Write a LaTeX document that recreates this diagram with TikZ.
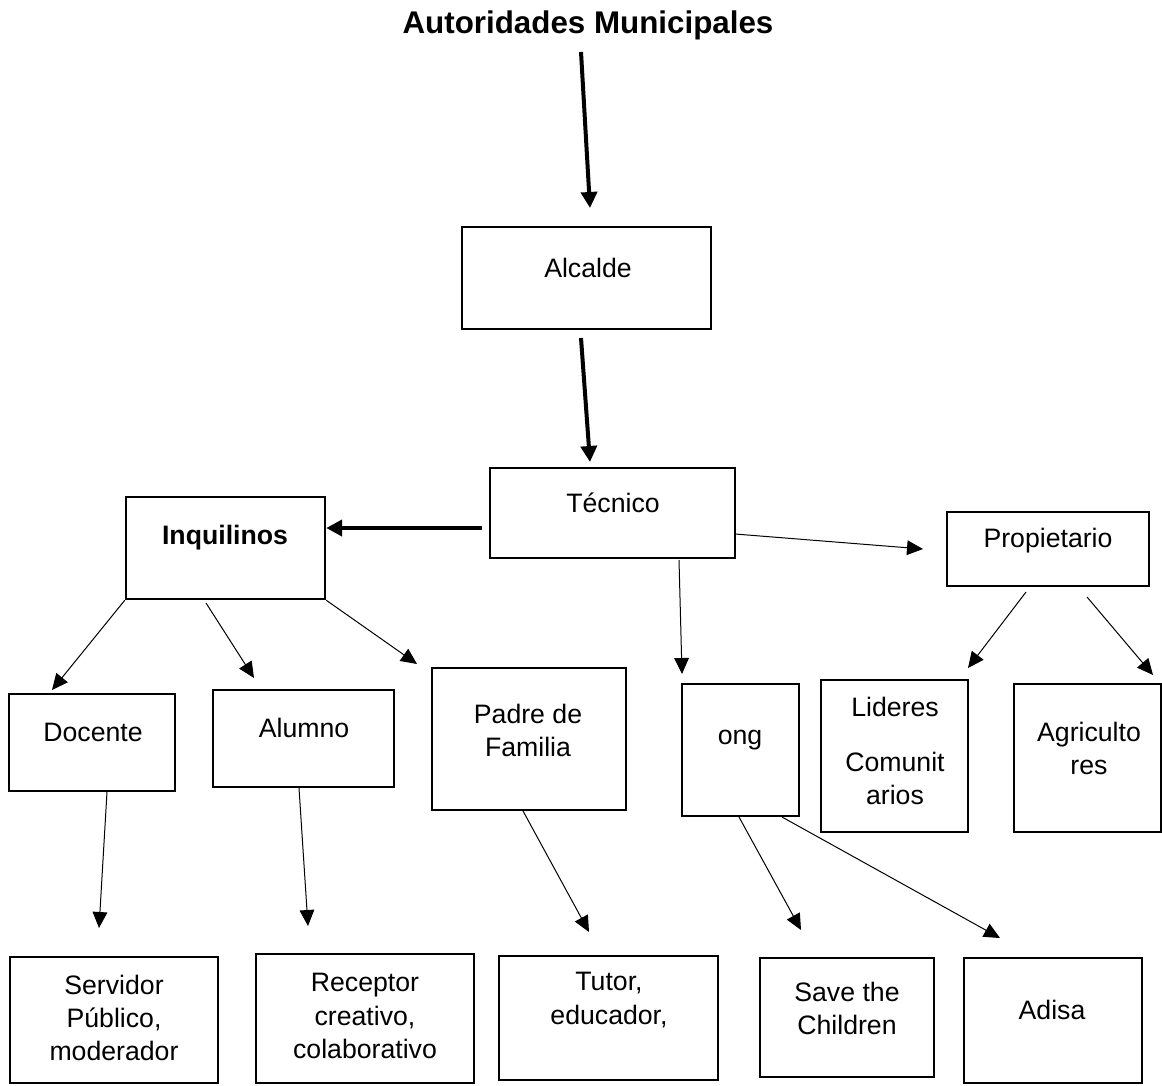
\documentclass[tikz,border=0pt]{standalone}
\usepackage{fontspec}
\setmainfont{Liberation Sans}
\usetikzlibrary{arrows.meta,fit}

\tikzset{
  box/.style={draw, line width=1.8pt, inner sep=0pt},
  txt/.style={inner sep=0.75pt, align=center, font=\fontsize{20}{24.8}\selectfont},
  arr/.style={line width=0.75pt, -{Triangle[length=12pt,width=11pt]}},
  bigarr/.style={line width=3pt, -{Triangle[length=12pt,width=12pt]}},
}

\begin{document}
\begin{tikzpicture}[x=0.75pt,y=0.75pt,yscale=-1,xscale=1]
\useasboundingbox (0,0) rectangle (1162,1085);

% Text Node
\node[txt, font=\bfseries\fontsize{23.5}{28}\selectfont] (tit) at (588,25) {Autoridades Municipales};

%Shape: Rectangle
\node[box, fit={(462,227) (711,329)}] (alc) {};
\node[box, fit={(490,468) (735,558)}] (tec) {};
\node[box, fit={(126,497) (325,599)}] (inq) {};
\node[box, fit={(947,512) (1149,586)}] (pro) {};
%Shape: Rectangle
\node[box, fit={(9,694) (175,791)}] (doc) {};
\node[box, fit={(213,690) (394,787)}] (alu) {};
\node[box, fit={(432,668) (626,810)}] (pad) {};
\node[box, fit={(682,684) (799,816)}] (ong) {};
\node[box, fit={(821,680) (968,832)}] (lid) {};
\node[box, fit={(1014,684) (1161,832)}] (agr) {};
%Shape: Rectangle
\node[box, fit={(10,957) (218,1083)}] (ser) {};
\node[box, fit={(256,954) (474,1083)}] (rec) {};
\node[box, fit={(499,956) (718,1080)}] (tut) {};
\node[box, fit={(760,958) (934,1077)}] (sav) {};
\node[box, fit={(964,958) (1142,1083)}] (adi) {};

% Text Node
\node[txt] (alcT) at (588,268) {Alcalde};
\node[txt] (tecT) at (613,503) {Técnico};
\node[txt, font=\bfseries\fontsize{20}{24.8}\selectfont] (inqT) at (225,538) {Inquilinos};
\node[txt] (proT) at (1048,541) {Propietario};
% Text Node
\node[txt] (docT) at (93,732) {Docente};
\node[txt] (aluT) at (304,728) {Alumno};
\node[txt] (padT) at (528,730) {Padre de\\Familia};
\node[txt] (ongT) at (740,740) {ong};
\node[txt] (lidT) at (895,751) {Lideres\\[16.5pt]Comunit\\arios};
\node[txt] (agrT) at (1089,748) {Agriculto\\res};
% Text Node
\node[txt] (serT) at (114,1018) {Servidor\\Público,\\moderador};
\node[txt] (recT) at (365,1016) {Receptor\\creativo,\\colaborativo};
\node[txt] (tutT) at (609,1000) {Tutor,\\educador,};
\node[txt] (savT) at (847,1008) {Save the\\Children};
\node[txt] (adiT) at (1052,1010) {Adisa};

%Arrow ends
\coordinate (titS) at (581,52);
\coordinate (alcN) at (590,208);
\coordinate (alcS) at (581,338);
\coordinate (tecN) at (590,462);
\coordinate (tecW) at (482,528);
\coordinate (tecE) at (735,534);
\coordinate (proW) at (923,549);
\coordinate (tecS) at (679,560);
\coordinate (ongN) at (682,674);
\coordinate (proSl) at (1026,592);
\coordinate (lidN) at (968,668);
\coordinate (proSr) at (1087,597);
\coordinate (agrN) at (1153,675);
\coordinate (docN) at (52,690);
\coordinate (inqS) at (206,603);
\coordinate (aluN) at (254,678);
\coordinate (padN) at (417,664);
\coordinate (docS) at (107,792);
\coordinate (serN) at (99,928);
\coordinate (aluS) at (299,788);
\coordinate (recN) at (308,926);
\coordinate (padS) at (523,811);
\coordinate (tutN) at (589,932);
\coordinate (ongSl) at (739,817);
\coordinate (savN) at (801,930);
\coordinate (ongSr) at (782,817);
\coordinate (adiN) at (1000,938);

%Straight Lines
\draw[bigarr] (titS) -- (alcN);
\draw[bigarr] (alcS) -- (tecN);
\draw[bigarr] (tecW) -- (tecW -| inq.east);
\draw[arr] (tecE) -- (proW);
\draw[arr] (tecS) -- (ongN);
\draw[arr] (proSl) -- (lidN);
\draw[arr] (proSr) -- (agrN);
%Straight Lines
\draw[arr] (inq.south west) -- (docN);
\draw[arr] (inqS) -- (aluN);
\draw[arr] (inq.south east) -- (padN);
\draw[arr] (docS) -- (serN);
\draw[arr] (aluS) -- (recN);
\draw[arr] (padS) -- (tutN);
\draw[arr] (ongSl) -- (savN);
\draw[arr] (ongSr) -- (adiN);
\end{tikzpicture}
\end{document}
